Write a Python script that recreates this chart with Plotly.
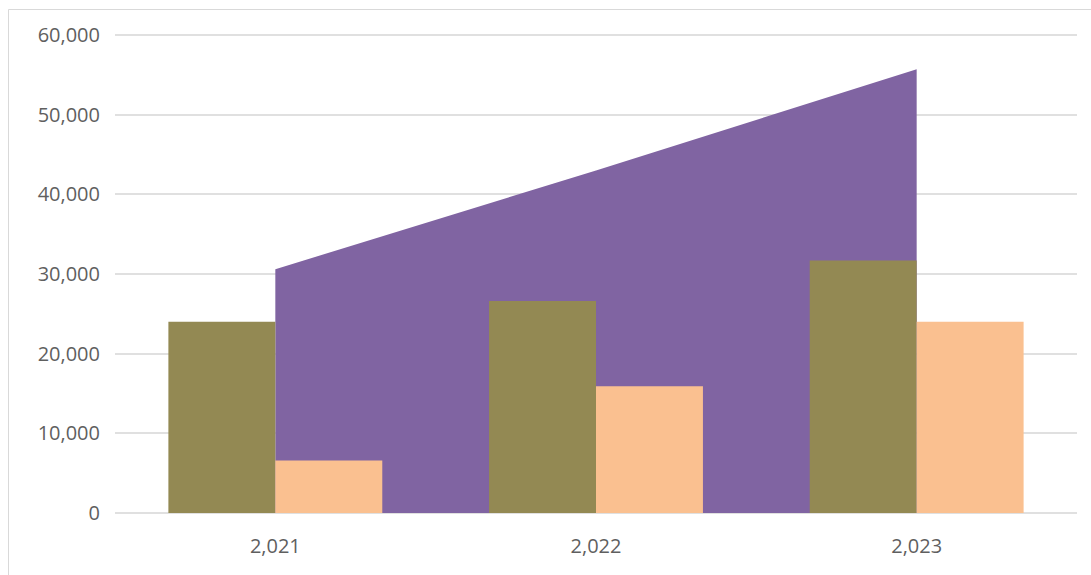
import plotly.graph_objects as go

# Yearly figures
years = [2021, 2022, 2023]
area_values = [30600, 43000, 55700]
olive_values = [24000, 26600, 31700]
peach_values = [6600, 15900, 24000]

y_ticks = [0, 10000, 20000, 30000, 40000, 50000, 60000]

PURPLE = "#8064A2"
OLIVE = "#938953"
PEACH = "#FAC090"
GRID = "#E0E0E0"
BORDER = "#D9D9D9"
TEXT = "#5F5F5F"

fig = go.Figure()

# Area sits on the base axes so it is drawn beneath the bars
fig.add_trace(go.Scatter(
    x=years, y=area_values, mode="lines", fill="tozeroy",
    line=dict(width=0, color=PURPLE), fillcolor=PURPLE,
    xaxis="x", yaxis="y", hoverinfo="x+y", showlegend=False,
))

# Bars on an overlaid axis pair so they render on top of the area
fig.add_trace(go.Bar(
    x=years, y=olive_values, marker=dict(color=OLIVE, line=dict(width=0)),
    xaxis="x2", yaxis="y2", showlegend=False,
))
fig.add_trace(go.Bar(
    x=years, y=peach_values, marker=dict(color=PEACH, line=dict(width=0)),
    xaxis="x2", yaxis="y2", showlegend=False,
))

W, H = 1091, 575
ml, mr, mt, mb = 115, 14, 33, 60
pw, ph = W - ml - mr, H - mt - mb

# small padding so the first and last gridlines are drawn inside the plot
pad = (y_ticks[-1] - y_ticks[0]) * 2 / (ph - 4)
x_range = [years[0] - 0.5, years[-1] + 0.5]
y_range = [y_ticks[0] - pad, y_ticks[-1] + pad]

fig.update_layout(
    width=W, height=H,
    margin=dict(l=ml, r=mr, t=mt, b=mb),
    paper_bgcolor="white", plot_bgcolor="white",
    barmode="group", bargap=0.333, bargroupgap=0,
    font=dict(family="Open Sans, DejaVu Sans, sans-serif", size=20, color=TEXT),
    xaxis=dict(
        range=x_range, tickvals=years, tickformat=",",
        showgrid=False, zeroline=False, showline=False, ticks="",
        ticklabelstandoff=17,
        tickfont=dict(size=20, color=TEXT),
    ),
    yaxis=dict(
        range=y_range, tickvals=y_ticks, tickformat=",",
        showgrid=True, gridcolor=GRID, gridwidth=2, zeroline=False,
        showline=False, ticks="", ticklabelstandoff=14,
        tickfont=dict(size=20, color=TEXT),
    ),
    xaxis2=dict(range=x_range, overlaying="x", visible=False),
    yaxis2=dict(range=y_range, overlaying="y", visible=False),
    shapes=[dict(
        type="rect", xref="paper", yref="paper",
        x0=(8.5 - ml) / pw, x1=(W + 20 - ml) / pw,
        y0=-(mb + 20) / ph, y1=(H - 9.5 - mb) / ph,
        line=dict(color=BORDER, width=1), fillcolor="rgba(0,0,0,0)",
        layer="below",
    )],
)

fig.write_html("out.html")
